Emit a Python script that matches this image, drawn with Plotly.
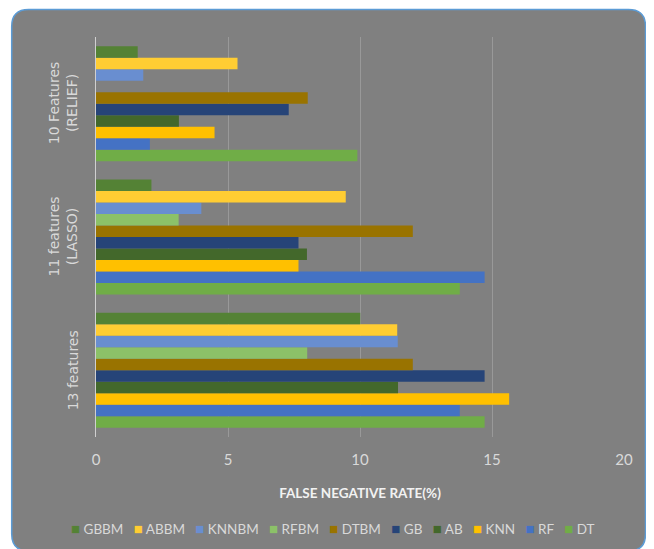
import plotly.graph_objects as go

# ---------------- data ----------------
categories = ["13 features", "11 features (LASSO)", "10 Features (RELIEF)"]
category_labels = ["13 features", "11 features<br>(LASSO)", "10 Features<br>(RELIEF)"]
series_names = ["DT", "RF", "KNN", "AB", "GB", "DTBM", "RFBM", "KNNBM", "ABBM", "GBBM"]
DT = [14.72, 13.78, 9.9]
RF = [13.78, 14.72, 2.04]
KNN = [15.65, 7.67, 4.49]
AB = [11.44, 7.99, 3.14]
GB = [14.72, 7.67, 7.3]
DTBM = [12.0, 12.0, 8.02]
RFBM = [8.0, 3.13, None]
KNNBM = [11.43, 3.99, 1.79]
ABBM = [11.41, 9.46, 5.36]
GBBM = [10.01, 2.10, 1.58]
x_tick_values = [0, 5, 10, 15, 20]
x_title = "FALSE NEGATIVE RATE(%)"

series_values = [DT, RF, KNN, AB, GB, DTBM, RFBM, KNNBM, ABBM, GBBM]
colors = ["#70AD47", "#4472C4", "#FFC000", "#43682B", "#264478",
          "#997300", "#8CC168", "#698ED0", "#FFCD33", "#548235"]

FONT = "Lato, Liberation Sans, sans-serif"
LABEL_GRAY = "#D9D9D9"

# the page body has an 8px margin; the figure is sized so it fits the window
OFF = 8
W, H = 654 - OFF, 549 - OFF
ML, MR, MT, MB = 96 - OFF, 30, 37 - OFF, 112
PW, PH = W - ML - MR, H - MT - MB


def px(xs):  # screen x -> paper
    return (xs - OFF - ML) / PW


def py(ys):  # screen y -> paper
    return (H - MB - (ys - OFF)) / PH


fig = go.Figure()
for name, vals, col in zip(series_names, series_values, colors):
    fig.add_trace(go.Bar(
        y=categories, x=vals, name=name, orientation="h",
        marker=dict(color=col, line=dict(width=0)),
        showlegend=False,
    ))

# rounded chart-area background
x0, x1, y0, y1, r = 11.7, 645.5, 9.5, 551, 17
path = (f"M {px(x0 + r)} {py(y0)} L {px(x1 - r)} {py(y0)} "
        f"Q {px(x1)} {py(y0)} {px(x1)} {py(y0 + r)} "
        f"L {px(x1)} {py(y1 - r)} Q {px(x1)} {py(y1)} {px(x1 - r)} {py(y1)} "
        f"L {px(x0 + r)} {py(y1)} Q {px(x0)} {py(y1)} {px(x0)} {py(y1 - r)} "
        f"L {px(x0)} {py(y0 + r)} Q {px(x0)} {py(y0)} {px(x0 + r)} {py(y0)} Z")
fig.add_shape(type="path", path=path, xref="paper", yref="paper",
              fillcolor="#808080", line=dict(color="#5B9BD5", width=1.5),
              layer="below")

annotations = []
# category labels (rotated)
for cat, lab in zip(categories, category_labels):
    two = "<br>" in lab
    annotations.append(dict(
        x=px(62.5 if two else 73), xref="paper", y=cat, yref="y",
        text=lab, textangle=-90, showarrow=False, align="center",
        xanchor="center", yanchor="middle",
        font=dict(family="DejaVu Sans", size=14, color=LABEL_GRAY),
    ))

# legend row (reverse series order, like the original)
parts = []
for name, col in zip(series_names[::-1], colors[::-1]):
    parts.append(f"<span style='color:{col};font-size:15px'>■</span> {name}")
legend_text = "   ".join(parts)
annotations.append(dict(
    x=px(333), xref="paper", y=py(528), yref="paper",
    text=legend_text, showarrow=False, xanchor="center", yanchor="middle",
    font=dict(family=FONT, size=13.5, color=LABEL_GRAY),
))

fig.update_layout(
    width=W, height=H,
    margin=dict(l=ML, r=MR, t=MT, b=MB, pad=0),
    paper_bgcolor="white",
    plot_bgcolor="rgba(0,0,0,0)",
    barmode="group", bargap=0.137, bargroupgap=0,
    annotations=annotations,
    showlegend=False,
    xaxis=dict(
        range=[0, 20], tickvals=x_tick_values, showgrid=True,
        gridcolor="#999999", gridwidth=1, zeroline=False, showline=False,
        ticks="", ticklabelstandoff=12,
        tickfont=dict(family=FONT, size=15, color=LABEL_GRAY),
        title=dict(text=f"<b>{x_title}</b>", standoff=21,
                   font=dict(family=FONT, size=13.5, color="#F2F2F2")),
        fixedrange=True,
    ),
    yaxis=dict(
        type="category", categoryorder="array", categoryarray=categories,
        showticklabels=False, showgrid=False, zeroline=False,
        showline=True, linecolor="#D0D0D0", linewidth=1, ticks="",
        fixedrange=True,
    ),
)

fig.write_html("out.html")
